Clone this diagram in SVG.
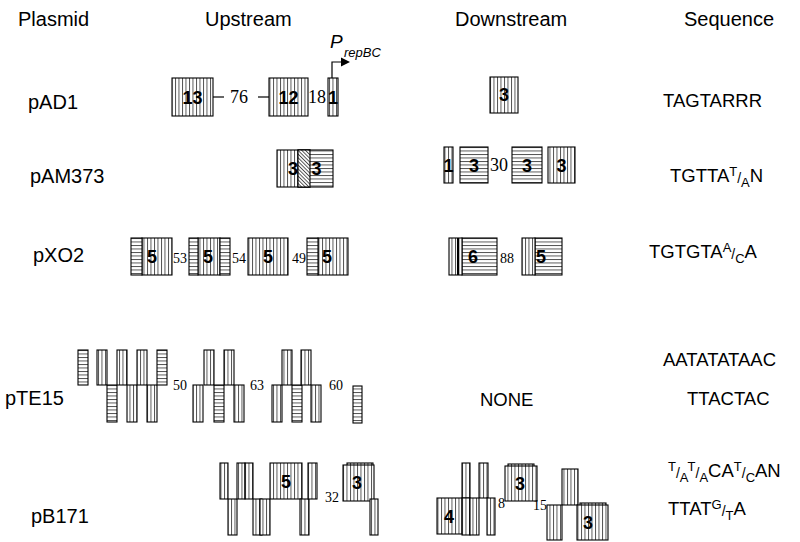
<svg xmlns="http://www.w3.org/2000/svg" width="800" height="542" viewBox="0 0 800 542">
<defs>
<pattern id="V" patternUnits="userSpaceOnUse" width="3.5" height="4"><rect width="3.5" height="4" fill="#fff"/><line x1="0.5" y1="0" x2="0.5" y2="4" stroke="#000" stroke-width="0.7"/></pattern>
<pattern id="H" patternUnits="userSpaceOnUse" width="4" height="3.5"><rect width="4" height="3.5" fill="#fff"/><line x1="0" y1="0.5" x2="4" y2="0.5" stroke="#000" stroke-width="0.7"/></pattern>
<pattern id="D" patternUnits="userSpaceOnUse" width="2.6" height="4" patternTransform="rotate(-45)"><rect width="2.6" height="4" fill="#fff"/><line x1="0.5" y1="0" x2="0.5" y2="4" stroke="#000" stroke-width="0.7"/></pattern>
</defs>
<style>
.v,.h,.d{stroke:#000;stroke-width:1.1}
.v{fill:url(#V)} .h{fill:url(#H)} .d{fill:url(#D)}
text{font-family:"Liberation Sans",Arial,sans-serif;fill:#000}
.n{font-weight:bold;font-size:18px;text-anchor:middle}
.s{font-family:"Liberation Serif","Times New Roman",serif;font-size:18px}
.s14{font-family:"Liberation Serif","Times New Roman",serif;font-size:14px}
.lab{font-size:20px}
.seq{font-size:18.5px}
.sm{font-size:13px}
.sl{font-size:14px}
</style>
<rect width="800" height="542" fill="#fff"/>

<g id="headers">
<text class="lab" x="18" y="26">Plasmid</text>
<text class="lab" x="205" y="26">Upstream</text>
<text class="lab" x="455" y="26">Downstream</text>
<text class="lab" x="684" y="26">Sequence</text>
</g>

<g id="labels">
<text class="lab" x="28" y="109">pAD1</text>
<text class="lab" x="30" y="183">pAM373</text>
<text class="lab" x="33" y="262">pXO2</text>
<text class="lab" x="5" y="405">pTE15</text>
<text class="lab" x="31" y="523">pB171</text>
<text class="seq" x="480" y="406">NONE</text>
</g>

<g id="connectors">
<line x1="213" y1="97" x2="224" y2="97" stroke="#000" stroke-width="1.2"/>
<line x1="258" y1="97" x2="269" y2="97" stroke="#000" stroke-width="1.2"/>
<path d="M332 78V62H342" fill="none" stroke="#000" stroke-width="1.2"/>
<polygon points="341,57.5 350,62 341,66.5" fill="#000"/>
</g>

<g id="pAD1">
<rect class="v" x="172" y="78" width="41" height="38"/><text class="n" x="192.5" y="104">13</text>
<text class="s" x="230" y="103">76</text>
<rect class="v" x="269" y="78" width="39" height="38"/><text class="n" x="288.5" y="104">12</text>
<text class="s" x="308" y="103">18</text>
<rect class="v" x="328" y="78" width="10" height="38"/><text class="n" x="333" y="104">1</text>
<text x="330" y="48" font-size="19" font-style="italic">P</text>
<text x="344" y="57" font-size="13" font-style="italic">repBC</text>
<rect class="v" x="490" y="77" width="28" height="36"/><text class="n" x="504" y="101">3</text>
</g>

<g id="pAM373">
<rect class="v" x="277" y="150" width="33" height="37"/>
<rect class="h" x="298" y="150" width="35" height="37"/>
<rect class="d" x="298" y="150" width="12" height="37"/>
<text class="n" x="293" y="175">3</text><text class="n" x="316.5" y="175">3</text>
<rect class="v" x="444" y="147" width="9" height="36"/><text class="n" x="448.5" y="171.5" font-weight="normal">1</text>
<rect class="h" x="460" y="147" width="28" height="36"/><text class="n" x="474" y="171.5">3</text>
<text class="s" x="490" y="171">30</text>
<rect class="h" x="512" y="147" width="30" height="36"/><text class="n" x="527" y="171.5">3</text>
<rect class="v" x="548" y="147" width="27" height="36"/><text class="n" x="561.5" y="171.5">3</text>
</g>

<g id="pXO2">
<rect class="v" x="142" y="238" width="30" height="37"/><rect class="h" x="131" y="238" width="11" height="37"/>
<text class="n" x="152" y="263">5</text>
<text class="s14" x="173" y="263">53</text>
<rect class="v" x="198" y="238" width="22" height="37"/><rect class="h" x="189" y="238" width="9" height="37"/><rect class="h" x="220" y="238" width="10" height="37"/>
<text class="n" x="208" y="263">5</text>
<text class="s14" x="232" y="263">54</text>
<rect class="v" x="248" y="238" width="40" height="37"/><text class="n" x="268" y="263">5</text>
<text class="s14" x="292" y="263">49</text>
<rect class="v" x="318" y="238" width="30" height="37"/><rect class="h" x="307" y="238" width="11" height="37"/>
<text class="n" x="327" y="263">5</text>
<rect class="h" x="462" y="238" width="35" height="37"/><rect class="v" x="449" y="238" width="13" height="37"/>
<line x1="458" y1="238" x2="458" y2="275" stroke="#000" stroke-width="2"/>
<text class="n" x="473" y="263">6</text>
<text class="s14" x="500" y="263">88</text>
<rect class="h" x="535" y="238" width="27" height="37"/><rect class="v" x="522" y="238" width="13" height="37"/>
<text class="n" x="541" y="263">5</text>
</g>

<g id="pTE15">
<rect class="h" x="78" y="350" width="10" height="35"/>
<rect class="v" x="97" y="350" width="10" height="35"/>
<rect class="h" x="107" y="385" width="10" height="37"/>
<rect class="v" x="117" y="350" width="10" height="35"/>
<rect class="v" x="127" y="385" width="10" height="37"/>
<rect class="v" x="137" y="350" width="10" height="35"/>
<rect class="v" x="147" y="385" width="10" height="37"/>
<rect class="h" x="157" y="350" width="10" height="35"/>
<text class="s14" x="173" y="390" font-size="15">50</text>
<rect class="v" x="193" y="385" width="10" height="37"/>
<rect class="v" x="204" y="350" width="10" height="35"/>
<rect class="h" x="214" y="385" width="10" height="37"/>
<rect class="v" x="224" y="350" width="10" height="35"/>
<rect class="v" x="234" y="385" width="10" height="37"/>
<text class="s14" x="250" y="390" font-size="15">63</text>
<rect class="v" x="272" y="385" width="10" height="37"/>
<rect class="v" x="282" y="350" width="10" height="35"/>
<rect class="h" x="292" y="385" width="10" height="37"/>
<rect class="v" x="301" y="350" width="10" height="35"/>
<rect class="v" x="311" y="385" width="10" height="37"/>
<text class="s14" x="329" y="390" font-size="15">60</text>
<rect class="h" x="353" y="386" width="9" height="37"/>
</g>

<g id="pB171">
<rect class="v" x="220" y="463" width="8" height="36"/>
<rect class="v" x="228" y="499" width="9" height="36"/>
<rect class="v" x="237" y="463" width="8" height="36"/>
<rect class="v" x="245" y="463" width="8" height="36"/>
<rect class="v" x="253" y="499" width="9" height="36"/>
<rect class="v" x="260" y="499" width="10" height="36"/>
<rect class="v" x="270" y="463" width="32" height="36"/><text class="n" x="286" y="488">5</text>
<rect class="v" x="300" y="499" width="9" height="36"/>
<rect class="v" x="308" y="463" width="9" height="36"/>
<text class="s14" x="325" y="502">32</text>
<rect class="v" x="347" y="463" width="26" height="10"/>
<rect class="v" x="343" y="465" width="31" height="36"/><text class="n" x="357" y="489">3</text>
<rect class="v" x="370" y="499" width="8" height="36"/>

<rect class="v" x="462" y="463" width="8" height="35"/>
<rect class="v" x="479" y="463" width="9" height="35"/>
<rect class="v" x="437" y="498" width="25" height="36"/><text class="n" x="449" y="523">4</text>
<rect class="v" x="462" y="498" width="8" height="37"/>
<rect class="v" x="470" y="498" width="9" height="37"/>
<rect class="v" x="487" y="498" width="8" height="37"/>
<text class="s14" x="498" y="508">8</text>
<rect class="v" x="508" y="464" width="26" height="10"/>
<rect class="v" x="505" y="466" width="32" height="35"/><text class="n" x="520" y="490">3</text>
<text class="s14" x="533" y="510">15</text>
<rect class="v" x="562" y="469" width="16" height="36"/>
<rect class="v" x="547" y="505" width="15" height="35"/>
<rect class="v" x="580" y="503" width="26" height="10"/>
<rect class="v" x="577" y="505" width="31" height="35"/><text class="n" x="588" y="529">3</text>
</g>

<g id="sequences">
<text class="seq" x="663" y="107">TAGTARRR</text>
<text class="seq" x="670" y="182">TGTTA<tspan class="sm" dy="-6">T</tspan><tspan class="sl" dy="7">/</tspan><tspan class="sm" dy="4">A</tspan><tspan dy="-5">N</tspan></text>
<text class="seq" x="649" y="258">TGTGTA<tspan class="sm" dy="-6">A</tspan><tspan class="sl" dy="7">/</tspan><tspan class="sm" dy="4">C</tspan><tspan dy="-5">A</tspan></text>
<text class="seq" x="663" y="366">AATATATAAC</text>
<text class="seq" x="687" y="405">TTACTAC</text>
<text class="seq" x="668" y="477"><tspan class="sm" dy="-6">T</tspan><tspan class="sl" dy="7">/</tspan><tspan class="sm" dy="4">A</tspan><tspan class="sm" dy="-11">T</tspan><tspan class="sl" dy="7">/</tspan><tspan class="sm" dy="4">A</tspan><tspan dy="-5">CA</tspan><tspan class="sm" dy="-6">T</tspan><tspan class="sl" dy="7">/</tspan><tspan class="sm" dy="4">C</tspan><tspan dy="-5">AN</tspan></text>
<text class="seq" x="668" y="515">TTAT<tspan class="sm" dy="-6">G</tspan><tspan class="sl" dy="7">/</tspan><tspan class="sm" dy="4">T</tspan><tspan dy="-5">A</tspan></text>
</g>
</svg>
